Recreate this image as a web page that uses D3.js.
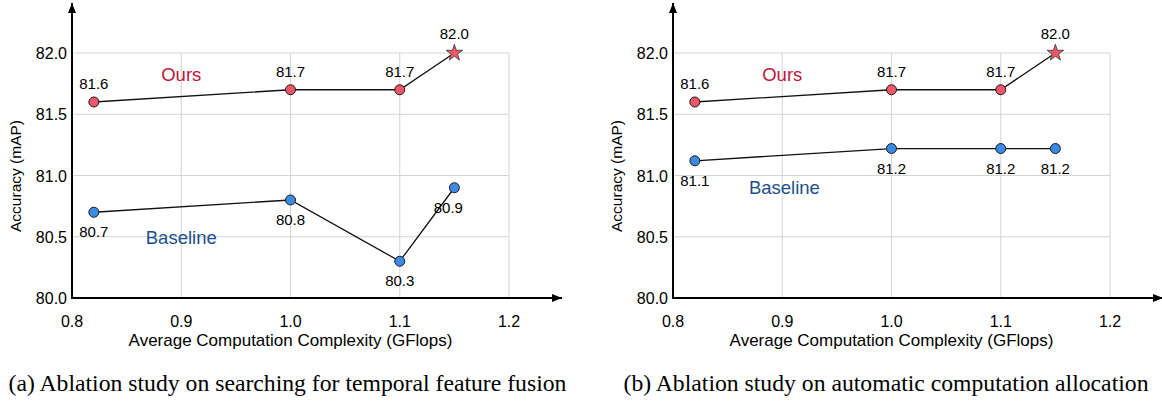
<!DOCTYPE html>
<html>
<head>
<meta charset="utf-8">
<script src="https://cdn.jsdelivr.net/npm/d3@7"></script>
<style>
  body { margin: 0; background: #fff; }
  svg { display: block; font-family: "Liberation Sans", Arial, sans-serif; }
</style>
</head>
<body>
<div id="chart"></div>
<script>
// DATA
const gflops = [0.82, 1.0, 1.1, 1.15];
const oursA = [81.6, 81.7, 81.7, 82.0];
const baseA = [80.7, 80.8, 80.3, 80.9];
const oursB = [81.6, 81.7, 81.7, 82.0];
const baseB = [81.12, 81.22, 81.22, 81.22];
const xTicks = [0.8, 0.9, 1.0, 1.1, 1.2];
const yTicks = [80.0, 80.5, 81.0, 81.5, 82.0];
const captions = [
  "(a) Ablation study on searching for temporal feature fusion",
  "(b) Ablation study on automatic computation allocation"
];

const W = 1162, H = 402;
const RED = "#ef5769", BLUE = "#3b8be4";

const svg = d3.select("#chart").append("svg")
  .attr("width", W).attr("height", H);

const defs = svg.append("defs");
defs.append("marker")
  .attr("id", "arrow")
  .attr("viewBox", "0 0 10 8")
  .attr("refX", 10).attr("refY", 4)
  .attr("markerWidth", 10).attr("markerHeight", 8)
  .attr("markerUnits", "userSpaceOnUse")
  .attr("orient", "auto")
  .append("path").attr("d", "M0,0L10,4L0,8Z").attr("fill", "#000");

const fmt = d3.format(".1f");

function panel(left, ours, base, caption, opts) {
  const x = d3.scaleLinear().domain([0.8, 1.2]).range([left, left + 437]);
  const y = d3.scaleLinear().domain([80, 82]).range([298, 53]);
  const g = svg.append("g");

  // GRID
  g.selectAll(".vgrid").data(xTicks.slice(1)).enter().append("line")
    .attr("x1", d => x(d)).attr("x2", d => x(d))
    .attr("y1", y(80)).attr("y2", y(82))
    .attr("stroke", "#d4d4d4").attr("stroke-width", 1);
  g.selectAll(".hgrid").data(yTicks.slice(1)).enter().append("line")
    .attr("x1", x(0.8)).attr("x2", x(1.2))
    .attr("y1", d => y(d)).attr("y2", d => y(d))
    .attr("stroke", "#d4d4d4").attr("stroke-width", 1);

  // AXES WITH ARROWS
  g.append("line")
    .attr("x1", x(0.8)).attr("x2", x(0.8))
    .attr("y1", y(80) + 1).attr("y2", 3)
    .attr("stroke", "#000").attr("stroke-width", 2)
    .attr("marker-end", "url(#arrow)");
  g.append("line")
    .attr("x1", x(0.8) - 1).attr("x2", x(1.2) + 53)
    .attr("y1", y(80)).attr("y2", y(80))
    .attr("stroke", "#000").attr("stroke-width", 2)
    .attr("marker-end", "url(#arrow)");

  // TICK LABELS
  g.selectAll(".xt").data(xTicks).enter().append("text")
    .attr("x", d => x(d)).attr("y", 327)
    .attr("text-anchor", "middle").attr("font-size", 16)
    .text(d => fmt(d));
  g.selectAll(".yt").data(yTicks).enter().append("text")
    .attr("x", x(0.8) - 5).attr("y", d => y(d) + 6)
    .attr("text-anchor", "end").attr("font-size", 16)
    .text(d => fmt(d));

  // AXIS TITLES
  g.append("text")
    .attr("x", x(1.0)).attr("y", 346)
    .attr("text-anchor", "middle").attr("font-size", 17)
    .text("Average Computation Complexity (GFlops)");
  g.append("text")
    .attr("transform", `translate(${x(0.8) - 51}, 176) rotate(-90)`)
    .attr("text-anchor", "middle").attr("font-size", 15.5)
    .text("Accuracy (mAP)");

  // LINES
  const line = d3.line().x((d, i) => x(gflops[i])).y(d => y(d));
  g.append("path").attr("d", line(ours))
    .attr("fill", "none").attr("stroke", "#111").attr("stroke-width", 1.3);
  g.append("path").attr("d", line(base))
    .attr("fill", "none").attr("stroke", "#111").attr("stroke-width", 1.3);

  // BASELINE POINTS
  g.selectAll(".bp").data(base).enter().append("circle")
    .attr("cx", (d, i) => x(gflops[i])).attr("cy", d => y(d)).attr("r", 5)
    .attr("fill", BLUE).attr("stroke", "#1a1a1a").attr("stroke-width", 1);
  g.selectAll(".bl").data(base).enter().append("text")
    .attr("x", (d, i) => x(gflops[i]) + (opts.bdx[i] || 0))
    .attr("y", d => y(d) + 25)
    .attr("text-anchor", "middle").attr("font-size", 15)
    .text(d => fmt(d));

  // OURS POINTS (last one is a star)
  g.selectAll(".op").data(ours.slice(0, 3)).enter().append("circle")
    .attr("cx", (d, i) => x(gflops[i])).attr("cy", d => y(d)).attr("r", 5)
    .attr("fill", RED).attr("stroke", "#1a1a1a").attr("stroke-width", 1);
  g.append("path")
    .attr("d", d3.symbol().type(d3.symbolStar).size(85)())
    .attr("transform", `translate(${x(gflops[3])}, ${y(ours[3])})`)
    .attr("fill", RED).attr("stroke", "#333").attr("stroke-width", 0.8);
  g.selectAll(".ol").data(ours).enter().append("text")
    .attr("x", (d, i) => x(gflops[i]))
    .attr("y", (d, i) => y(d) - (i === 3 ? 14 : 13))
    .attr("text-anchor", "middle").attr("font-size", 15)
    .text(d => fmt(d));

  // SERIES NAMES
  g.append("text")
    .attr("x", x(0.9)).attr("y", 81)
    .attr("text-anchor", "middle").attr("font-size", 18.5)
    .attr("fill", "#c1143c").text("Ours");
  g.append("text")
    .attr("x", x(opts.baseX)).attr("y", opts.baseY)
    .attr("text-anchor", "middle").attr("font-size", 18.5)
    .attr("fill", "#1d4f8e").text("Baseline");

  // CAPTION
  svg.append("text")
    .attr("x", x(1.0) + opts.capDx).attr("y", 391)
    .attr("text-anchor", "middle")
    .attr("font-family", "'Liberation Serif', 'Times New Roman', serif")
    .attr("font-size", 23.7)
    .text(caption);
}

panel(72, oursA, baseA, captions[0], { baseX: 0.9, baseY: 244, bdx: [0, 0, 0, -6], capDx: -3 });
panel(673, oursB, baseB, captions[1], { baseX: 0.902, baseY: 194, bdx: [0, 0, 0, 0], capDx: -5.5 });
</script>
</body>
</html>
